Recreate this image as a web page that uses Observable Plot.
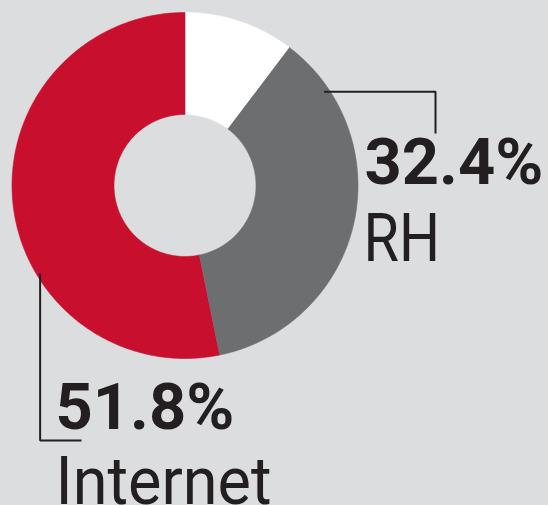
<!DOCTYPE html>
<html><head><meta charset="utf-8">
<script src="https://cdn.jsdelivr.net/npm/d3@7"></script>
<script src="https://cdn.jsdelivr.net/npm/@observablehq/plot@0.6"></script>
<style>
html,body{margin:0;padding:0;background:#dcdddf;}
svg{display:block}
</style></head><body><div id="chart"></div>
<script>
// ---- data ----
const categories = ["Other", "RH", "Internet"];
const shares = [10.3, 36.5, 53.2];          // slice sizes as drawn
const valueLabels = ["", "32.4%", "51.8%"];
const nameLabels = ["", "RH", "Internet"];

// ---- layout & style ----
const W = 548, H = 505;
const cx = 184.5, cy = 185, R = 173, r0 = 71;
const palette = {Other: "#ffffff", RH: "#6d6e70", Internet: "#c8102e"};
const ink = "#231f20";
const squeeze = {RH: 0.86, Internet: 0.94};   // horizontal condensing of the regular labels

const pie = d3.pie().sort(null).value(d => d.share)(
  categories.map((c, i) => ({cat: c, share: shares[i]}))
);
const pt = (a, rad) => ({x: cx + rad * Math.sin(a), y: cy - rad * Math.cos(a)});

const slicePts = [];
for (const s of pie) {
  const n = 240, cat = s.data.cat;
  for (let k = 0; k <= n; k++) {
    const a = s.startAngle + (s.endAngle - s.startAngle) * k / n;
    slicePts.push({cat, ...pt(a, R)});
  }
  for (let k = n; k >= 0; k--) {
    const a = s.startAngle + (s.endAngle - s.startAngle) * k / n;
    slicePts.push({cat, ...pt(a, r0)});
  }
}

// leader lines: start inside the slice, elbow, end near the label
const rad = deg => deg * Math.PI / 180;
const lead = [];
{
  const s = pt(rad(56), 0.97 * R);
  lead.push({cat: "RH", x: s.x, y: s.y}, {cat: "RH", x: 435, y: s.y}, {cat: "RH", x: 435, y: 133});
  const t = pt(rad(238.7), 0.98 * R);
  lead.push({cat: "Internet", x: t.x, y: t.y}, {cat: "Internet", x: t.x, y: 440}, {cat: "Internet", x: 81, y: 440});
}

const labelPos = {
  RH: {vx: 364, vy: 183, nx: 363, ny: 260},
  Internet: {vx: 55, vy: 428, nx: 55, ny: 503}
};
const valueTexts = categories.map((c, i) => ({cat: c, text: valueLabels[i]})).filter(d => d.text)
  .map(d => ({...d, x: labelPos[d.cat].vx, y: labelPos[d.cat].vy}));
const nameTexts = categories.map((c, i) => ({cat: c, text: nameLabels[i]})).filter(d => d.text)
  .map(d => ({...d, x: labelPos[d.cat].nx, y: labelPos[d.cat].ny}));

const chart = Plot.plot({
  width: W, height: H, margin: 0,
  x: {domain: [0, W], range: [0, W], axis: null},
  y: {domain: [0, H], range: [0, H], axis: null},
  style: {background: "#dcdddf", overflow: "visible"},
  marks: [
    ...categories.map(c => Plot.line(slicePts.filter(d => d.cat === c), {
      x: "x", y: "y", fill: palette[c], stroke: palette[c], strokeWidth: 0.6
    })),
    Plot.line(lead, {x: "x", y: "y", z: "cat", stroke: ink, strokeWidth: 2, strokeLinejoin: "miter", strokeLinecap: "butt"}),
    Plot.text(valueTexts, {x: "x", y: "y", text: "text", fontFamily: "Roboto", fontWeight: 700, fontSize: 65,
      textAnchor: "start", lineAnchor: "bottom", fill: ink}),
    Plot.text(nameTexts, {x: "x", y: "y", text: "text", fontFamily: "Roboto", fontWeight: 400, fontSize: 67,
      textAnchor: "start", lineAnchor: "bottom", fill: ink})
  ]
});

// condense the regular-weight labels horizontally, keeping their left edge
d3.select(chart).selectAll("text").each(function () {
  const s = squeeze[this.textContent];
  if (!s) return;
  const tr = this.getAttribute("transform");
  if (tr && /translate/.test(tr)) {
    this.setAttribute("transform", tr + ` scale(${s},1)`);
  } else if (this.hasAttribute("x")) {
    const x = +this.getAttribute("x");
    this.setAttribute("x", x / s);
    this.setAttribute("transform", `scale(${s},1)`);
  }
});
document.getElementById("chart").append(chart);
</script></body></html>
